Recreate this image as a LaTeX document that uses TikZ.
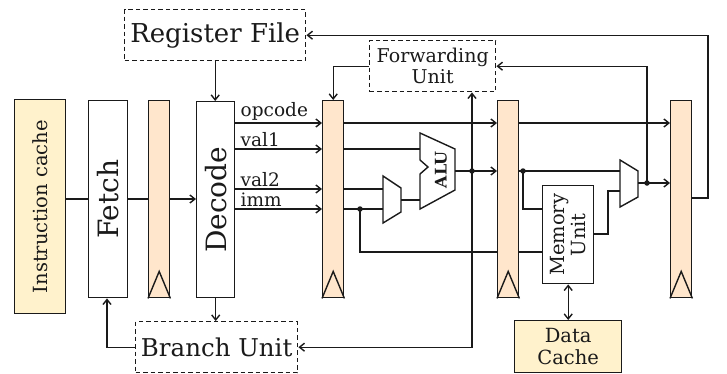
\documentclass[tikz,border=0pt]{standalone}
\usepackage{fontspec}
\setmainfont{DejaVu Serif}
\usetikzlibrary{arrows.meta}
\definecolor{regc}{HTML}{FFE6CC}
\definecolor{cachec}{HTML}{FFF2CC}
\definecolor{ink}{HTML}{1A1A1A}
\begin{document}
\begin{tikzpicture}[x=1pt,y=-1pt,line width=1.4pt,draw=ink,text=ink,
  >={Straight Barb[length=5pt,width=8pt]},
  blk/.style={draw,inner sep=0pt,anchor=north west},
  pipereg/.style={blk,fill=regc,minimum width=21pt,minimum height=197pt},
  unitbox/.style={blk,fill=white},
  dashbox/.style={blk,dash pattern=on 4.5pt off 3pt},
  cachebox/.style={blk,fill=cachec},
  dot/.style={circle,fill=ink,inner sep=0pt,minimum size=5.5pt},
  sig/.style={font=\fontsize{18.5}{18.5}\selectfont,anchor=south west,inner sep=1pt}]
\useasboundingbox (0,0) rectangle (727,373);
% blocks
\node[cachebox,minimum width=51pt,minimum height=214pt] (ic) at (14,99) {};
\node[rotate=90,font=\fontsize{19.5}{19.5}\selectfont] (ict) at (ic.center) {Instruction cache};
\node[unitbox,minimum width=39pt,minimum height=197pt] (fetch) at (88,100) {};
\node[rotate=90,font=\fontsize{28}{28}\selectfont] (fetcht) at (fetch.center) {Fetch};
\node[pipereg] (r1) at (148,100) {};
\node[unitbox,minimum width=38pt,minimum height=196pt] (dec) at (196,101) {};
\node[rotate=90,font=\fontsize{28}{28}\selectfont] (dect) at (dec.center) {Decode};
\node[dashbox,minimum width=181pt,minimum height=51pt,font=\fontsize{26}{26}\selectfont] (rf) at (124,9) {Register File};
\node[dashbox,minimum width=162pt,minimum height=51pt,font=\fontsize{24.5}{24.5}\selectfont] (bu) at (135,321) {Branch Unit};
\node[dashbox,minimum width=126pt,minimum height=51pt,font=\fontsize{19}{21}\selectfont,align=center] (fu) at (369,40) {Forwarding\\Unit};
\node[pipereg] (r2) at (322,100) {};
\node[pipereg] (r3) at (497,100) {};
\node[pipereg] (r4) at (670,100) {};
\node[unitbox,minimum width=51pt,minimum height=98pt] (mem) at (542,185) {};
\node[rotate=90,font=\fontsize{19.5}{21}\selectfont,align=center] (memt) at (mem.center) {Memory\\Unit};
\node[cachebox,minimum width=107pt,minimum height=52pt,font=\fontsize{19.5}{21.5}\selectfont,align=center] (dc) at (514,320) {Data\\Cache};
% clock triangles
\foreach \r in {r1,r2,r3,r4}
  \draw (\r.south west) -- ([yshift=27pt]\r.south) -- (\r.south east);
% mux and ALU
\draw[fill=white] (383,176) -- (401,188) -- (401,212) -- (383,223) -- cycle;
\draw[fill=white] (420,133) -- (455,149) -- (455,190) -- (420,209) -- (420,174) -- (428,167) -- (420,160) -- cycle;
\node[rotate=90,font=\bfseries\fontsize{16}{16}\selectfont] (alut) at (441,170) {ALU};
\draw[fill=white] (620,160) -- (638,171) -- (638,197) -- (620,207) -- cycle;
% fetch path
\draw (ic.east |- 0,199) -- (fetch.west |- 0,199);
\draw (fetch.east |- 0,199) -- (r1.west |- 0,199);
\draw[->] (r1.east |- 0,199) -- (dec.west |- 0,199);
\draw[->] (rf.south) -- (rf.south |- dec.north);
\draw[->] (dec.south) -- (dec.south |- bu.north);
\draw[->] (bu.west) -- (bu.west -| 107,0) -- (fetch.south -| 107,0);
% decode outputs
\draw[->] (dec.east |- 0,123) -- (r2.west |- 0,123);
\node[sig] (lop) at (239,122) {opcode};
\draw[->] (dec.east |- 0,149) -- (r2.west |- 0,149);
\node[sig] (lv1) at (239,148) {val1};
\draw[->] (dec.east |- 0,189) -- (r2.west |- 0,189);
\node[sig] (lv2) at (239,188) {val2};
\draw[->] (dec.east |- 0,209) -- (r2.west |- 0,209);
\node[sig] (lim) at (239,208) {imm};
% forwarding unit to r2
\draw[->] (fu.west) -- (fu.west -| r2.north) -- (r2.north);
% execute stage
\draw[->] (r2.east |- 0,123) -- (r3.west |- 0,123);
\draw[->] (r3.east |- 0,123) -- (r4.west |- 0,123);
\draw (r2.east |- 0,149) -- (420,149);
\draw (r2.east |- 0,189) -- (383,189);
\draw (r2.east |- 0,209) -- (383,209);
\node[dot] (d1) at (360,209) {};
\draw (d1.center) -- (360,252) -- (r3.west |- 0,252);
\draw (r3.east |- 0,252) -- (mem.west |- 0,252);
\draw (401,200) -- (420,200);
\draw[->] (455,171) -- (r3.west |- 0,171);
\node[dot] (d2) at (472,171) {};
\draw[<->] (fu.south -| d2) -- (d2 |- bu.east) -- (bu.east);
% memory stage
\node[dot] (d3) at (523,171) {};
\draw (r3.east |- 0,171) -- (620,171);
\draw (d3.center) -- (523,209) -- (mem.west |- 0,209);
\draw (mem.east |- 0,234) -- (608,234) -- (608,191) -- (620,191);
\draw[<->] (mem.south) -- (dc.north);
\draw[->] (638,183) -- (r4.west |- 0,183);
\node[dot] (d4) at (647,183) {};
\draw[->] (d4.center) -- (fu.east -| d4) -- (fu.east);
% writeback
\draw[->] (r4.east |- 0,198) -- (708,198) -- (rf.east -| 708,0) -- (rf.east);
\end{tikzpicture}
\end{document}
